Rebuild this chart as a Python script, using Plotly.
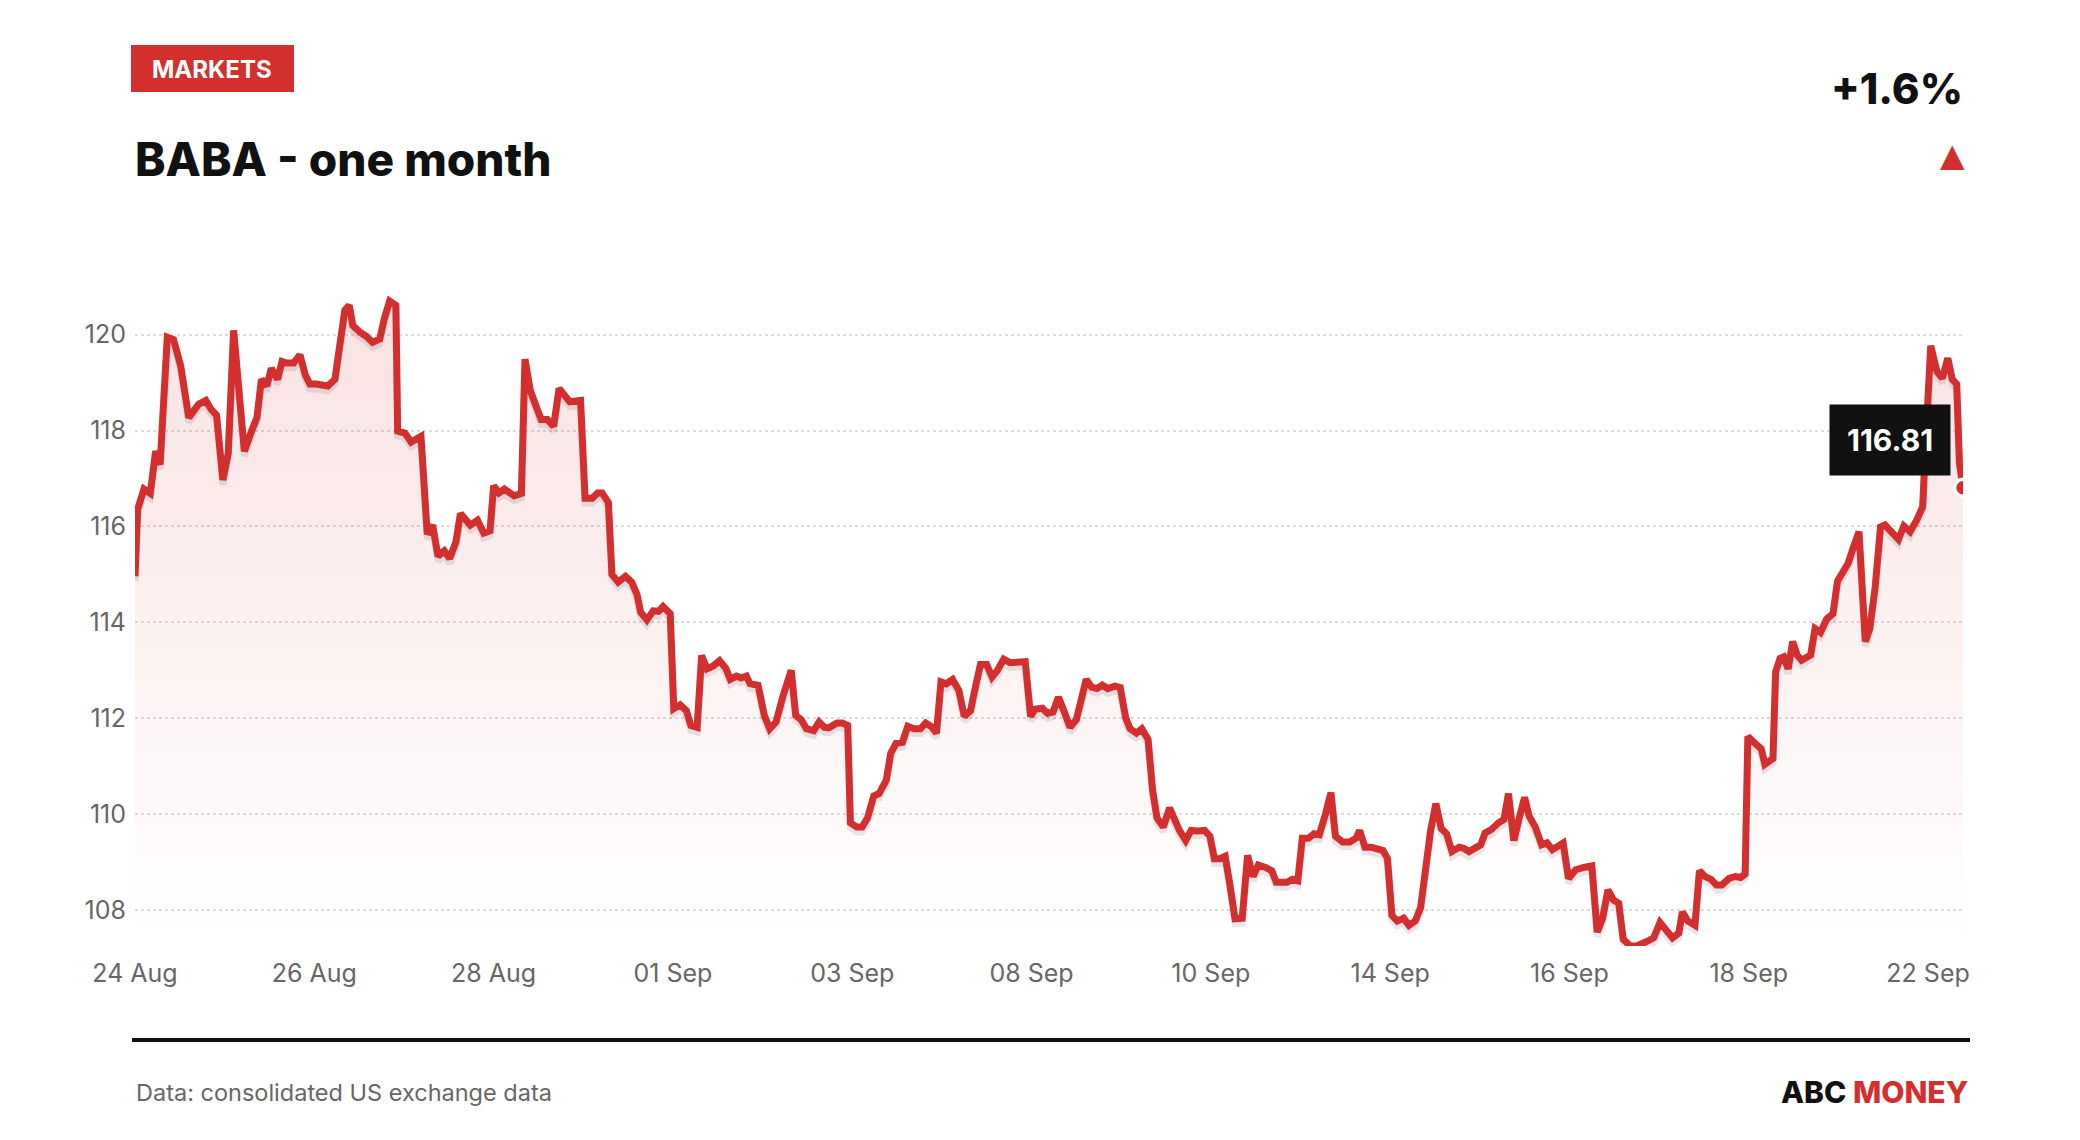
#!/usr/bin/env python3
"""
BABA one-month intraday price card (ABC Money style), rebuilt with Plotly.
"""

import plotly.graph_objects as go

# position of each sample in trading days since the 24 Aug open
day_pos = [
    0.00, 0.03, 0.10, 0.17, 0.23, 0.28, 0.36, 0.43, 0.51, 0.60,
    0.71, 0.79, 0.85, 0.91, 0.98, 1.04, 1.10, 1.16, 1.22, 1.30,
    1.36, 1.41, 1.47, 1.52, 1.59, 1.64, 1.69, 1.77, 1.84, 1.90,
    1.95, 2.02, 2.10, 2.15, 2.23, 2.30, 2.34, 2.39, 2.43, 2.51,
    2.58, 2.65, 2.73, 2.78, 2.84, 2.91, 2.93, 3.01, 3.08, 3.19,
    3.26, 3.32, 3.38, 3.45, 3.51, 3.58, 3.63, 3.74, 3.82, 3.89,
    3.96, 4.00, 4.06, 4.12, 4.23, 4.31, 4.35, 4.41, 4.47, 4.53,
    4.60, 4.67, 4.73, 4.79, 4.85, 4.97, 5.02, 5.10, 5.16, 5.21,
    5.28, 5.32, 5.39, 5.47, 5.54, 5.60, 5.64, 5.71, 5.78, 5.84,
    5.89, 5.97, 6.01, 6.08, 6.15, 6.20, 6.27, 6.32, 6.38, 6.45,
    6.52, 6.59, 6.64, 6.71, 6.76, 6.82, 6.86, 6.95, 7.02, 7.08,
    7.15, 7.23, 7.32, 7.37, 7.43, 7.49, 7.57, 7.63, 7.69, 7.74,
    7.83, 7.89, 7.95, 7.98, 8.05, 8.11, 8.17, 8.24, 8.30, 8.38,
    8.43, 8.49, 8.56, 8.62, 8.69, 8.76, 8.82, 8.88, 8.94, 8.99,
    9.05, 9.12, 9.19, 9.25, 9.32, 9.36, 9.43, 9.50, 9.56, 9.62,
    9.69, 9.76, 9.84, 9.93, 9.99, 10.04, 10.12, 10.18, 10.24, 10.30,
    10.36, 10.43, 10.50, 10.56, 10.61, 10.67, 10.73, 10.79, 10.85, 10.93,
    10.99, 11.05, 11.10, 11.17, 11.23, 11.30, 11.35, 11.40, 11.47, 11.54,
    11.60, 11.65, 11.72, 11.78, 11.85, 11.93, 11.99, 12.04, 12.10, 12.16,
    12.21, 12.27, 12.35, 12.41, 12.47, 12.53, 12.61, 12.68, 12.73, 12.79,
    12.85, 12.91, 12.97, 13.02, 13.09, 13.15, 13.21, 13.28, 13.34, 13.39,
    13.47, 13.55, 13.62, 13.66, 13.72, 13.79, 13.86, 13.92, 13.97, 14.02,
    14.08, 14.15, 14.21, 14.28, 14.34, 14.40, 14.45, 14.51, 14.57, 14.63,
    14.69, 14.77, 14.82, 14.88, 14.95, 15.01, 15.06, 15.13, 15.21, 15.27,
    15.32, 15.38, 15.44, 15.50, 15.55, 15.62, 15.69, 15.75, 15.81, 15.93,
    15.99, 16.07, 16.16, 16.25, 16.31, 16.37, 16.43, 16.49, 16.55, 16.60,
    16.68, 16.75, 16.87, 16.94, 17.01, 17.07, 17.15, 17.22, 17.26, 17.32,
    17.40, 17.45, 17.51, 17.58, 17.64, 17.70, 17.78, 17.85, 17.91, 17.96,
    17.99, 18.07, 18.14, 18.18, 18.27, 18.30, 18.35, 18.39, 18.44, 18.49,
    18.54, 18.59, 18.69, 18.74, 18.80, 18.87, 18.94, 18.99, 19.06, 19.11,
    19.17, 19.23, 19.30, 19.35, 19.41, 19.47, 19.52, 19.59, 19.67, 19.73,
    19.80, 19.87, 19.94, 19.97, 20.03, 20.10, 20.16, 20.22, 20.27, 20.32,
    20.35, 20.39,
]

price = [
    114.96, 116.36, 116.78, 116.69, 117.57, 117.29, 119.95, 119.90, 119.35, 118.27,
    118.55, 118.63, 118.44, 118.32, 116.97, 117.53, 120.09, 118.90, 117.57, 117.99,
    118.27, 119.07, 118.93, 119.30, 119.07, 119.44, 119.41, 119.41, 119.58, 119.16,
    118.97, 118.97, 118.93, 118.93, 119.07, 119.91, 120.51, 120.61, 120.19, 120.05,
    119.97, 119.84, 119.91, 120.33, 120.70, 120.61, 117.99, 117.95, 117.76, 117.88,
    115.84, 116.03, 115.38, 115.49, 115.33, 115.68, 116.27, 116.03, 116.13, 115.86,
    115.91, 116.85, 116.70, 116.78, 116.64, 116.69, 119.49, 118.83, 118.51, 118.23,
    118.23, 118.09, 118.88, 118.74, 118.60, 118.63, 116.59, 116.59, 116.70, 116.70,
    116.50, 115.00, 114.84, 114.96, 114.84, 114.58, 114.21, 114.05, 114.24, 114.23,
    114.33, 114.18, 112.20, 112.28, 112.16, 111.85, 111.81, 113.31, 113.03, 113.09,
    113.20, 113.04, 112.81, 112.88, 112.84, 112.88, 112.72, 112.69, 112.06, 111.78,
    111.92, 112.48, 113.00, 112.06, 111.97, 111.78, 111.74, 111.92, 111.81, 111.80,
    111.90, 111.90, 111.85, 109.82, 109.73, 109.73, 109.92, 110.38, 110.43, 110.71,
    111.27, 111.48, 111.50, 111.83, 111.78, 111.78, 111.90, 111.83, 111.69, 112.76,
    112.72, 112.81, 112.58, 112.04, 112.16, 112.53, 113.12, 113.12, 112.86, 113.00,
    113.23, 113.16, 113.16, 113.18, 112.04, 112.19, 112.21, 112.10, 112.13, 112.44,
    112.16, 111.81, 111.97, 112.39, 112.81, 112.65, 112.62, 112.69, 112.62, 112.67,
    112.64, 112.01, 111.78, 111.69, 111.78, 111.56, 110.51, 109.92, 109.73, 110.13,
    109.85, 109.66, 109.45, 109.66, 109.65, 109.66, 109.54, 109.07, 109.07, 109.12,
    108.56, 107.82, 107.83, 109.14, 108.70, 108.94, 108.89, 108.82, 108.58, 108.58,
    108.58, 108.64, 108.61, 109.50, 109.50, 109.59, 109.57, 110.01, 110.45, 109.54,
    109.42, 109.42, 109.50, 109.66, 109.31, 109.31, 109.26, 109.24, 109.08, 107.89,
    107.77, 107.83, 107.68, 107.77, 108.05, 108.98, 109.64, 110.22, 109.70, 109.59,
    109.22, 109.31, 109.29, 109.22, 109.29, 109.36, 109.61, 109.68, 109.82, 109.89,
    110.43, 109.45, 109.92, 110.35, 109.96, 109.73, 109.36, 109.40, 109.26, 109.40,
    108.66, 108.84, 108.89, 108.92, 107.54, 107.83, 108.42, 108.21, 108.14, 107.39,
    107.25, 107.25, 107.35, 107.42, 107.74, 107.58, 107.42, 107.52, 107.96, 107.77,
    107.68, 108.82, 108.70, 108.64, 108.52, 108.52, 108.66, 108.70, 108.68, 108.75,
    111.62, 111.48, 111.36, 111.04, 111.16, 112.97, 113.25, 113.28, 113.03, 113.60,
    113.32, 113.21, 113.32, 113.87, 113.79, 114.07, 114.18, 114.86, 115.10, 115.24,
    115.58, 115.89, 113.60, 113.87, 114.73, 115.99, 116.03, 115.89, 115.73, 116.01,
    115.89, 116.12, 116.41, 117.62, 119.77, 119.23, 119.09, 119.51, 119.07, 118.97,
    117.34, 116.81,
]

tick_pos = [0, 2, 4, 6, 8, 10, 12, 14, 16, 18, 20]
tick_labels = ["24 Aug", "26 Aug", "28 Aug", "01 Sep", "03 Sep", "08 Sep",
               "10 Sep", "14 Sep", "16 Sep", "18 Sep", "22 Sep"]
price_ticks = [108, 110, 112, 114, 116, 118, 120]

RED = "#d32f2f"
INK = "#111111"
GREY = "#666666"
FONT = "Inter, Roboto, Arial"

# canvas + plot box in pixels
W, H = 2080, 1140
M_L, M_R, M_T, M_B = 135, 117, 258, 194
PW, PH = W - M_L - M_R, H - M_T - M_B
Y_RANGE = [107.25, 121.6]


def px(x):
    """pixel column -> paper x"""
    return (x - M_L) / PW


def py(y):
    """pixel row -> paper y"""
    return (H - M_B - y) / PH


last_x, last_y = day_pos[-1], price[-1]
change = (price[-1] / price[0] - 1) * 100

fig = go.Figure()

# soft gradient area under the line
fig.add_trace(go.Scatter(
    x=day_pos, y=price, mode="lines", line=dict(width=0),
    fill="tozeroy",
    fillgradient=dict(
        type="vertical", start=Y_RANGE[0], stop=max(price),
        colorscale=[[0, "rgba(211,47,47,0.0)"], [1, "rgba(211,47,47,0.14)"]],
    ),
    hoverinfo="skip", showlegend=False,
))

# faint drop shadow under the line
fig.add_trace(go.Scatter(
    x=day_pos, y=[p - 0.1 for p in price], mode="lines",
    line=dict(color="rgba(0,0,0,0.09)", width=7),
    hoverinfo="skip", showlegend=False,
))

fig.add_trace(go.Scatter(
    x=day_pos, y=price, mode="lines",
    line=dict(color=RED, width=7),
    showlegend=False,
))

# last price dot
fig.add_trace(go.Scatter(
    x=[last_x], y=[last_y], mode="markers",
    marker=dict(size=17, color=RED, line=dict(color="white", width=3.5)),
    showlegend=False,
))

annotations = [
    dict(x=px(212), y=py(69), text="MARKETS",
         font=dict(size=24, color="white", weight=700)),
    dict(x=px(133), y=py(159), text="BABA - one month", xanchor="left",
         font=dict(size=46, color=INK, weight=800)),
    dict(x=px(1965), y=py(88), text=f"{change:+.1f}%", xanchor="right",
         font=dict(size=42, color=INK, weight=800)),
    dict(x=px(1967), y=py(155), text="▲", xanchor="right",
         font=dict(size=32, color=RED, family="DejaVu Sans")),
    dict(x=px(134), y=py(1092), text="Data: consolidated US exchange data",
         xanchor="left", font=dict(size=23.5, color=GREY)),
    dict(x=px(1970), y=py(1092), xanchor="right",
         text=f"ABC <span style='color:{RED}'>MONEY</span>",
         font=dict(size=30, color=INK, weight=800)),
]
for a in annotations:
    a.update(xref="paper", yref="paper", showarrow=False,
             yanchor="middle", xanchor=a.get("xanchor", "center"))

# price flag next to the last point
annotations.append(dict(
    x=last_x, y=last_y, xref="x", yref="y", showarrow=False,
    text=f"{last_y:.2f}", xanchor="right", yanchor="bottom",
    xshift=-12, yshift=12, bgcolor=INK, borderpad=17,
    font=dict(size=30, color="white", weight=700),
))

shapes = [
    dict(type="rect", xref="paper", yref="paper",
         x0=px(131), x1=px(294), y0=py(92), y1=py(45),
         fillcolor=RED, line=dict(width=0)),
    dict(type="line", xref="paper", yref="paper",
         x0=px(132), x1=px(1970), y0=py(1040), y1=py(1040),
         line=dict(color=INK, width=4)),
]

fig.update_layout(
    width=W, height=H,
    margin=dict(l=M_L, r=M_R, t=M_T, b=M_B),
    paper_bgcolor="white", plot_bgcolor="white",
    font=dict(family=FONT, size=25, color=GREY),
    showlegend=False,
    annotations=annotations,
    shapes=shapes,
    xaxis=dict(
        range=[0, last_x], tickvals=tick_pos, ticktext=tick_labels,
        showgrid=False, zeroline=False, showline=False, ticks="",
        ticklabelstandoff=10, tickfont=dict(size=25, color=GREY),
    ),
    yaxis=dict(
        range=Y_RANGE, tickvals=price_ticks,
        showgrid=True, gridcolor="#dcdcdc", gridwidth=2, griddash="dot",
        zeroline=False, showline=False, ticks="",
        ticklabelstandoff=8, tickfont=dict(size=25, color=GREY),
    ),
)

# page body margin would push the card off by 8px
fig.write_html(
    "out.html",
    config={"displayModeBar": False},
    post_script="document.body.style.margin='0';",
)
